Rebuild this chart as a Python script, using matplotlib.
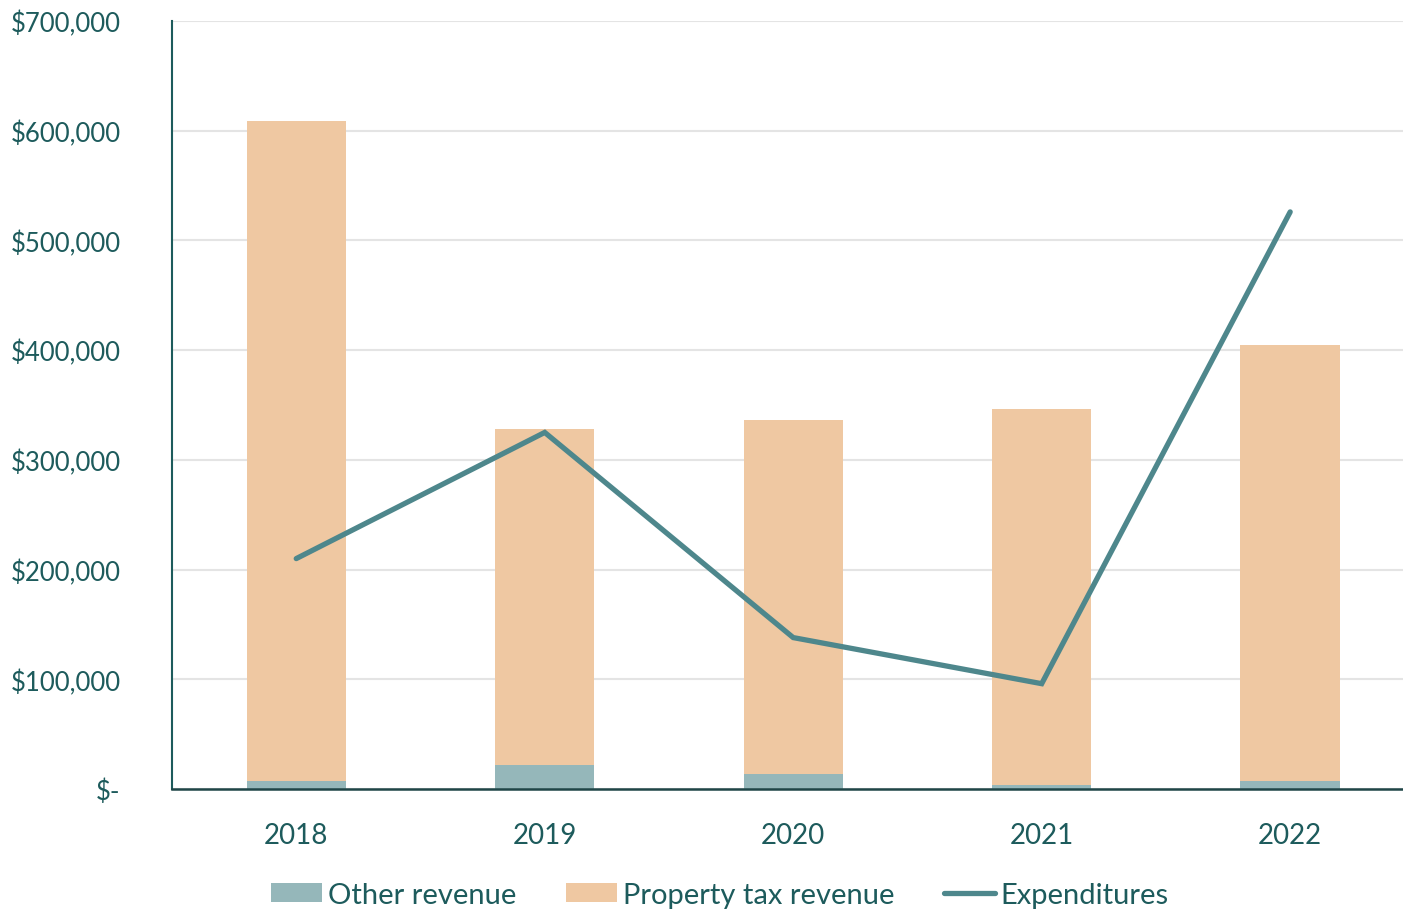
import numpy as np
import matplotlib.pyplot as plt
from matplotlib.ticker import FuncFormatter

# Data
years = ['2018', '2019', '2020', '2021', '2022']
other_revenue = [7500, 22000, 14000, 4000, 7500]
property_tax_revenue = [601500, 306000, 322000, 342000, 397000]
expenditures = [210000, 325000, 138000, 96000, 526000]

# Colours
text_col = '#1D5B5C'
other_col = '#95B7BA'
tax_col = '#EFC8A2'
line_col = '#4E878C'
grid_col = '#E4E4E4'

plt.rcParams['font.family'] = ['Lato', 'DejaVu Sans']

fig = plt.figure(figsize=(14.03, 9.12), dpi=100)
ax = fig.add_axes([172 / 1403, 122 / 912, 1231 / 1403, 768 / 912])

x = np.arange(len(years))
b1 = ax.bar(x, other_revenue, width=0.4, color=other_col, label='Other revenue', zorder=2)
b2 = ax.bar(x, property_tax_revenue, width=0.4, bottom=other_revenue, color=tax_col,
            label='Property tax revenue', zorder=2)
l1, = ax.plot(x, expenditures, color=line_col, linewidth=3.8, solid_capstyle='round',
              solid_joinstyle='miter', label='Expenditures', zorder=3)

ax.set_xlim(-0.5, 4.454)
ax.set_ylim(0, 700000)
ax.set_yticks(np.arange(0, 700001, 100000))
ax.yaxis.set_major_formatter(FuncFormatter(lambda v, p: '$-' if v == 0 else '${:,.0f}'.format(v)))
ax.set_xticks(x)
ax.set_xticklabels(years)

ax.grid(axis='y', color=grid_col, linewidth=1.5, zorder=0)
ax.set_axisbelow(True)
for s in ['top', 'right']:
    ax.spines[s].set_visible(False)
ax.spines['left'].set_color(text_col)
ax.spines['left'].set_linewidth(1.5)
ax.spines['bottom'].set_color('#1F4547')
ax.spines['bottom'].set_linewidth(1.8)

ax.tick_params(axis='both', length=0, labelcolor=text_col)
ax.tick_params(axis='y', pad=37, labelsize=18.5)
ax.tick_params(axis='x', pad=24, labelsize=20)

fig.legend([b1, b2, l1], ['Other revenue', 'Property tax revenue', 'Expenditures'],
           loc='center', bbox_to_anchor=(0.513, 0.018), ncol=3, frameon=False,
           fontsize=21, labelcolor=text_col, handlelength=1.75, handleheight=0.65,
           handletextpad=0.2, columnspacing=1.7)

fig.savefig('out.png', dpi=100)
